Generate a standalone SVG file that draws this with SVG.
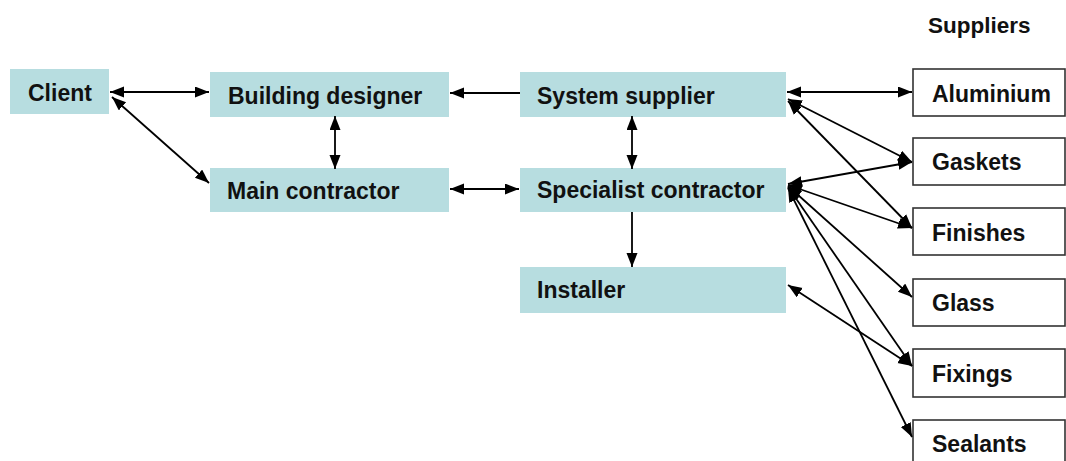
<svg xmlns="http://www.w3.org/2000/svg" width="1066" height="461" viewBox="0 0 1066 461">
  <defs>
    <style>
      .role rect { fill: #B7DDE0; }
      .supplier rect { fill: #ffffff; stroke: #333333; stroke-width: 1.6; }
      text { font-family: "Liberation Sans", Arial, sans-serif; font-weight: bold; font-size: 23px; fill: #111111; }
      .heading { font-size: 22.5px; }
      #connectors path { fill: none; stroke: #000000; stroke-width: 1.8; }
      .two { marker-start: url(#head); marker-end: url(#head); }
      .one { marker-end: url(#head); }
    </style>
    <marker id="head" markerUnits="userSpaceOnUse" markerWidth="15" markerHeight="12" refX="14" refY="5.5" orient="auto-start-reverse">
      <path d="M0,0 L14,5.5 L0,11 z" fill="#000000"/>
    </marker>
  </defs>

  <rect width="1066" height="461" fill="#ffffff"/>

  <!-- parties on the project side -->
  <g id="client" class="role">
    <rect x="10" y="69" width="99" height="45"/>
    <text x="28" y="101">Client</text>
  </g>
  <g id="building-designer" class="role">
    <rect x="210" y="72" width="239" height="45"/>
    <text x="228" y="104">Building designer</text>
  </g>
  <g id="main-contractor" class="role">
    <rect x="210" y="168" width="239" height="44"/>
    <text x="227" y="199">Main contractor</text>
  </g>
  <g id="system-supplier" class="role">
    <rect x="520" y="72" width="266" height="45"/>
    <text x="537" y="104">System supplier</text>
  </g>
  <g id="specialist-contractor" class="role">
    <rect x="520" y="168" width="266" height="44"/>
    <text x="537" y="198">Specialist contractor</text>
  </g>
  <g id="installer" class="role">
    <rect x="520" y="267" width="266" height="46"/>
    <text x="537" y="298">Installer</text>
  </g>

  <!-- material suppliers -->
  <text class="heading" x="928" y="33">Suppliers</text>
  <g id="aluminium" class="supplier">
    <rect x="913" y="69" width="152" height="47"/>
    <text x="932" y="102">Aluminium</text>
  </g>
  <g id="gaskets" class="supplier">
    <rect x="913" y="138" width="152" height="47"/>
    <text x="932" y="170">Gaskets</text>
  </g>
  <g id="finishes" class="supplier">
    <rect x="913" y="208" width="152" height="47"/>
    <text x="932" y="241">Finishes</text>
  </g>
  <g id="glass" class="supplier">
    <rect x="913" y="279" width="152" height="47"/>
    <text x="932" y="311">Glass</text>
  </g>
  <g id="fixings" class="supplier">
    <rect x="913" y="349" width="152" height="48"/>
    <text x="932" y="382">Fixings</text>
  </g>
  <g id="sealants" class="supplier">
    <rect x="913" y="420" width="152" height="50"/>
    <text x="932" y="452">Sealants</text>
  </g>

  <!-- relationships -->
  <g id="connectors">
    <path class="two" d="M110,92 L209,92"/>
    <path class="two" d="M112,97 L209,183"/>
    <path class="two" d="M335,116 L335,169"/>
    <path class="one" d="M520,93 L450,93"/>
    <path class="two" d="M450,189 L519,189"/>
    <path class="two" d="M632,116 L632,169"/>
    <path class="one" d="M632,212 L632,267"/>
    <path class="two" d="M787,92 L912,92"/>
    <path class="two" d="M788,99 L912,162"/>
    <path class="two" d="M788,101 L912,228"/>
    <path class="two" d="M788,184 L912,162"/>
    <path class="two" d="M788,185 L912,228"/>
    <path class="two" d="M788,186 L912,297"/>
    <path class="two" d="M788,187 L912,366"/>
    <path class="two" d="M788,188 L912,437"/>
    <path class="two" d="M788,285 L912,366"/>
  </g>
</svg>
